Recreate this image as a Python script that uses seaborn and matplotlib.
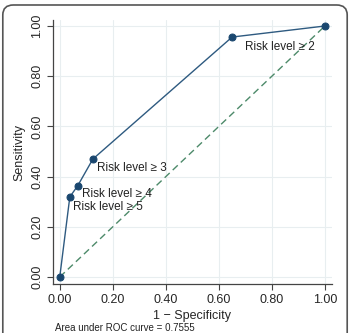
import matplotlib
matplotlib.use("Agg")
import matplotlib.pyplot as plt
from matplotlib.patches import FancyBboxPatch
import seaborn as sns
import pandas as pd

# ROC points (1 - specificity, sensitivity)
fpr = [0.0, 0.038, 0.068, 0.125, 0.650, 1.0]
tpr = [0.0, 0.319, 0.364, 0.470, 0.956, 1.0]
point_labels = ["", "Risk level \u2265 5", "Risk level \u2265 4", "Risk level \u2265 3", "Risk level \u2265 2", ""]
ticks = [0.0, 0.2, 0.4, 0.6, 0.8, 1.0]
tick_labels = ["0.00", "0.20", "0.40", "0.60", "0.80", "1.00"]
auc_text = "Area under ROC curve = 0.7555"

df = pd.DataFrame({"fpr": fpr, "tpr": tpr, "label": point_labels})

sns.set_style("white")
plt.rcParams["font.family"] = ["Liberation Sans", "DejaVu Sans"]

fig = plt.figure(figsize=(3.5, 3.33), dpi=100)
# outer rounded frame, bottom edge runs off the image
fig.patches.append(FancyBboxPatch((0.008, -0.05), 0.984, 1.035, boxstyle="round,pad=0,rounding_size=0.03",
                                  transform=fig.transFigure, fill=False, edgecolor="#555555", linewidth=1.2))
ax = fig.add_axes([0.151, 0.147, 0.797, 0.793])

# reference diagonal
sns.lineplot(x=[0, 1], y=[0, 1], ax=ax, color="#4d8a6a", linestyle=(0, (5, 3)), linewidth=1.0)
sns.lineplot(data=df, x="fpr", y="tpr", ax=ax, color="#2e5a80", linewidth=1.0,
             marker="o", markersize=5, markerfacecolor="#1a476f", markeredgecolor="#1a476f",
             sort=False, estimator=None)

offsets = {
    "Risk level \u2265 5": (2, -3),
    "Risk level \u2265 4": (3, -2),
    "Risk level \u2265 3": (3, -2),
    "Risk level \u2265 2": (9, -3),
}
for x, y, lab in zip(fpr, tpr, point_labels):
    if lab:
        dx, dy = offsets[lab]
        ax.annotate(lab, (x, y), xytext=(dx, dy), textcoords="offset points",
                    ha="left", va="top", fontsize=8.5, color="#222222")

ax.set_xlim(-0.026, 1.026)
ax.set_ylim(-0.028, 1.024)
ax.set_xticks(ticks)
ax.set_xticklabels(tick_labels, fontsize=9)
ax.set_yticks(ticks)
ax.set_yticklabels(tick_labels, fontsize=9, rotation=90, va="center")
ax.grid(True, color="#e8eef0", linewidth=0.8)
ax.tick_params(axis="both", direction="out", length=4, width=0.8, color="#444444", pad=3, left=True, bottom=True)
for s in ["top", "right"]:
    ax.spines[s].set_visible(False)
for s in ["left", "bottom"]:
    ax.spines[s].set_color("#444444")
    ax.spines[s].set_linewidth(0.9)
ax.set_xlabel("1 \u2212 Specificity", fontsize=9, labelpad=3)
ax.set_ylabel("Sensitivity", fontsize=9, labelpad=4)
fig.text(0.157, 0.0, auc_text, fontsize=7, ha="left", va="bottom", color="#222222")

fig.savefig("out.png", dpi=100)
